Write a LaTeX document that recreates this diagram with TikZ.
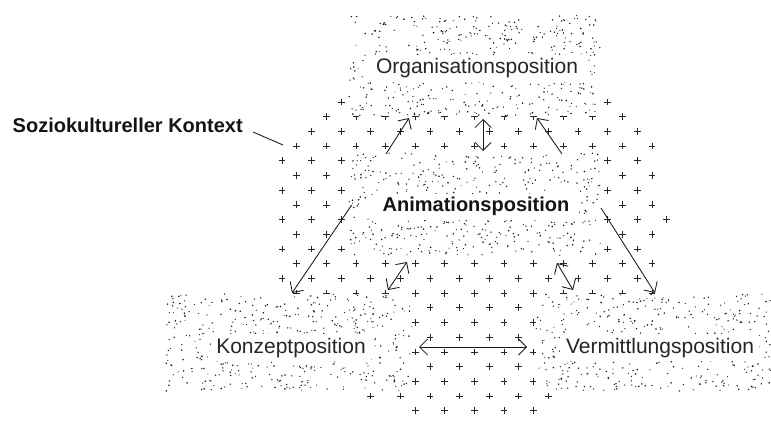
\documentclass[tikz,border=0pt]{standalone}
\usepackage{fontspec}
\setmainfont{Liberation Sans}
\usetikzlibrary{arrows.meta}
\newcommand\mystipple[5]{%
  \fill[dotbox] (#1,#2) rectangle ++(#3,#4);
  \foreach \i in {1,...,#5}{\fill[stip] ({#1+#3*rnd},{#2+#4*rnd}) circle[radius={0.55+0.35*rnd}];}
}
\begin{document}
\begin{tikzpicture}[x=1pt,y=-1pt,
  plusmark/.style={line width=0.7pt,draw=black!85},
  dotbox/.style={fill=white,draw=none},
  stip/.style={fill=black!90},
  lbl/.style={fill=white,inner ysep=4pt,inner xsep=5pt,text=black!85,font=\fontsize{21}{25}\selectfont,anchor=base},
  lblb/.style={lbl,text=black!92,font=\bfseries\fontsize{20}{24}\selectfont},
  arr/.style={-{Straight Barb[length=8pt,width=16pt]},line width=0.85pt,draw=black!90},
  biarr/.style={{Straight Barb[length=8pt,width=16pt]}-{Straight Barb[length=8pt,width=16pt]},line width=0.85pt,draw=black!90}
]
\useasboundingbox (0,0) rectangle (771,422);
% plus grid (sociocultural context)
\foreach \k/\ja/\jb in {0/2/11,1/1/11,2/1/12,3/0/12,4/0/12,5/0/12,6/0/12,7/0/12,8/0/13,9/0/12,10/0/12,11/0/12,12/0/12,13/0/12,14/0/12,15/0/12,16/0/12,17/0/12,18/0/12,19/0/12,20/3/9,21/4/8}{
  \foreach \j in {\ja,...,\jb}{
    \pgfmathsetmacro\px{282+29.6*\j+14.8*mod(\k,2)}
    \pgfmathsetmacro\py{102+14.7*\k}
    \draw[plusmark] (\px,\py) +(-3.4,0) -- +(3.4,0) +(0,-3.4) -- +(0,3.4);
  }
}
% stippled fields
\pgfmathsetseed{12}
\mystipple{349}{15}{252}{101.5}{480}
\mystipple{349}{153}{252}{103}{480}
\mystipple{165}{294}{247}{97}{460}
\mystipple{536}{294}{235}{97}{440}
% labels
\node[lbl,inner xsep=8pt] (org) at (477,74) {Organisationsposition};
\node[lblb,inner xsep=10pt] (anim) at (476,212) {Animationsposition};
\node[lbl] (konz) at (291,353) {Konzeptposition};
\node[lbl] (verm) at (660,353) {Vermittlungsposition};
\node[lblb,fill=none,anchor=base west,inner sep=0pt] (ctx) at (12.5,133) {Soziokultureller Kontext};
% connector end points
\coordinate (a1s) at (386,154); \coordinate (a1e) at (409,118);
\coordinate (a2s) at (483,151); \coordinate (a2e) at (483,119);
\coordinate (a3s) at (562,154); \coordinate (a3e) at (537,118);
\coordinate (a4s) at (351,206); \coordinate (a4e) at (292,293);
\coordinate (a5s) at (601,208); \coordinate (a5e) at (655,293);
\coordinate (a6s) at (388,290); \coordinate (a6e) at (407,262);
\coordinate (a7s) at (573,290); \coordinate (a7e) at (557,263);
\coordinate (a8s) at (419,347); \coordinate (a8e) at (527,347);
\coordinate (ctxa) at (253,132); \coordinate (ctxb) at (283,145);
% connectors
\draw[arr] (a1s) -- (a1e);
\draw[biarr] (a2s) -- (a2e);
\draw[arr] (a3s) -- (a3e);
\draw[arr] (a4s) -- (a4e);
\draw[arr] (a5s) -- (a5e);
\draw[biarr] (a6s) -- (a6e);
\draw[biarr] (a7s) -- (a7e);
\draw[biarr] (a8s) -- (a8e);
\draw[line width=0.85pt,black!90] (ctxa) -- (ctxb);
\end{tikzpicture}
\end{document}
